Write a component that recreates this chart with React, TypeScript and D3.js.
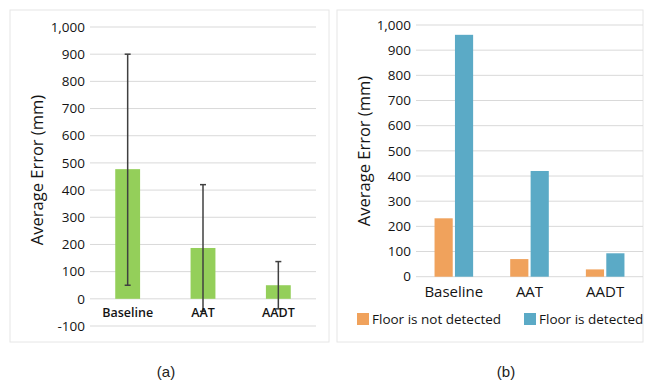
import React from 'react'
import * as d3 from 'd3'

const categories = ['Baseline', 'AAT', 'AADT']
const meanError = [477, 187, 50]
const errTop = [900, 420, 137]
const errBottom = [50, -46, -37]
const notDetected = [232, 70, 29]
const detected = [961, 420, 93]
const seriesNames = ['Floor is not detected', 'Floor is detected']
const ticksA = [-100, 0, 100, 200, 300, 400, 500, 600, 700, 800, 900, 1000]
const ticksB = [0, 100, 200, 300, 400, 500, 600, 700, 800, 900, 1000]

const font = "'Open Sans', sans-serif"
const green = '#94cf5a'
const orange = '#f0a25c'
const blue = '#5baac6'
const grid = '#d9d9d9'
const ink = '#141414'
// excel style: hyphen minus, thousands comma
const fmt = (v: number) => d3.format(',')(v).replace('\u2212', '-')

export default function App() {
  const width = 646
  const height = 385

  // panel (a)
  const xa = d3.scaleBand().domain(categories).range([90, 316]).paddingInner(0.67).paddingOuter(0.335)
  const ya = d3.scaleLinear().domain([-100, 1000]).range([326, 27])

  // panel (b)
  const xb = d3.scaleBand().domain(categories).range([416, 643]).paddingInner(0.49).paddingOuter(0.245)
  const xs = d3.scaleBand().domain(seriesNames).range([0, xb.bandwidth()]).paddingInner(0.11)
  const yb = d3.scaleLinear().domain([0, 1000]).range([276.7, 25])
  const series = [notDetected, detected]
  const colors = [orange, blue]

  return (
    <div style={{ position: 'absolute', left: 0, top: 0 }}>
      <svg width={width} height={height} style={{ display: 'block', background: 'white' }}>
        {/* (a) */}
        <rect x={10} y={10} width={319} height={332} fill="white" stroke="#e6e6e6" />
        <g fontFamily={font} fontSize={13.5} fill={ink}>
          {ticksA.map(t => (
            <g key={t}>
              <line x1={90} x2={316} y1={ya(t)} y2={ya(t)} stroke={grid} />
              <text x={85} y={ya(t)} dy="0.35em" textAnchor="end">{fmt(t)}</text>
            </g>
          ))}
        </g>
        {categories.map((c, i) => (
          <rect key={c} x={xa(c)} width={xa.bandwidth()} y={ya(meanError[i])} height={ya(0) - ya(meanError[i])} fill={green} />
        ))}
        <g stroke="#404040" strokeWidth={1.5}>
          {categories.map((c, i) => {
            const cx = xa(c)! + xa.bandwidth() / 2
            return (
              <g key={c}>
                <line x1={cx} x2={cx} y1={ya(errTop[i])} y2={ya(errBottom[i])} />
                <line x1={cx - 3} x2={cx + 3} y1={ya(errTop[i])} y2={ya(errTop[i])} />
                <line x1={cx - 3} x2={cx + 3} y1={ya(errBottom[i])} y2={ya(errBottom[i])} />
              </g>
            )
          })}
        </g>
        <g fontFamily={font} fontSize={12.5} fontWeight={600} fill={ink} textAnchor="middle">
          {categories.map(c => (
            <text key={c} x={xa(c)! + xa.bandwidth() / 2} y={313} dy="0.35em">{c}</text>
          ))}
        </g>
        <text transform="translate(37,170) rotate(-90)" textAnchor="middle" dy="0.35em" fontFamily={font} fontSize={16.5} fill={ink}>Average Error (mm)</text>

        {/* (b) */}
        <rect x={337} y={10} width={306} height={332} fill="white" stroke="#e6e6e6" />
        <g fontFamily={font} fontSize={13.5} fill={ink}>
          {ticksB.map(t => (
            <g key={t}>
              <line x1={416} x2={643} y1={yb(t)} y2={yb(t)} stroke={grid} />
              <text x={411} y={yb(t)} dy="0.35em" textAnchor="end">{fmt(t)}</text>
            </g>
          ))}
        </g>
        {categories.map((c, i) => (
          <g key={c} transform={`translate(${xb(c)},0)`}>
            {seriesNames.map((s, j) => (
              <rect key={s} x={xs(s)} width={xs.bandwidth()} y={yb(series[j][i])} height={yb(0) - yb(series[j][i])} fill={colors[j]} />
            ))}
          </g>
        ))}
        <g fontFamily={font} fontSize={15} fill={ink} textAnchor="middle">
          {categories.map(c => (
            <text key={c} x={xb(c)! + xb.bandwidth() / 2} y={292} dy="0.35em">{c}</text>
          ))}
        </g>
        <text transform="translate(364,151) rotate(-90)" textAnchor="middle" dy="0.35em" fontFamily={font} fontSize={16.5} fill={ink}>Average Error (mm)</text>
        <g fontFamily={font} fontSize={13.5} fill={ink}>
          {seriesNames.map((s, j) => {
            const lx = j === 0 ? 357 : 524
            return (
              <g key={s}>
                <rect x={lx} y={313} width={12} height={12} fill={colors[j]} />
                <text x={lx + 15} y={319.5} dy="0.35em">{s}</text>
              </g>
            )
          })}
        </g>

        <g fontFamily="'Liberation Sans', Arial, sans-serif" fontSize={15} fill="#222" textAnchor="middle">
          <text x={166} y={377}>(a)</text>
          <text x={506} y={377}>(b)</text>
        </g>
      </svg>
    </div>
  )
}
